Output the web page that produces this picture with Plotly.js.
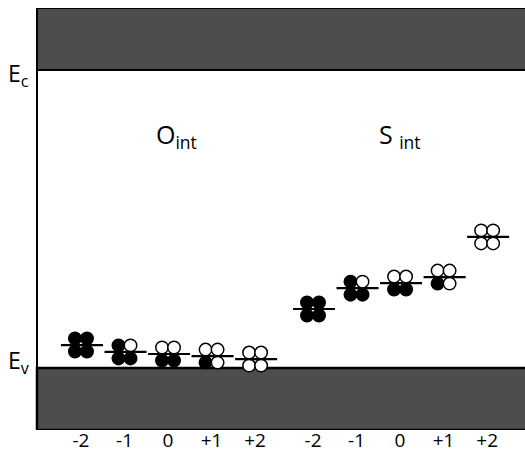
<!DOCTYPE html>
<html>
<head>
<meta charset="utf-8">
<script src="https://cdn.plot.ly/plotly-3.0.1.min.js"></script>
<style>html,body{margin:0;padding:0;background:#fff;}#chart{width:525px;height:453px;}</style>
</head>
<body>
<div id="chart"></div>
<script>
// ---- data ----
const chargeLabels = ["-2", "-1", "0", "+1", "+2"];
const xO = [0, 1, 2, 3, 4];                 // O_int positions
const xS = [5.33, 6.33, 7.33, 8.33, 9.33];  // S_int positions
const oLevels = [0.077, 0.054, 0.047, 0.040, 0.030]; // level above Ev (Ev=0, Ec=1)
const sLevels = [0.198, 0.268, 0.285, 0.305, 0.440];
// occupancy of the four states per charge (1 = filled electron, 0 = empty)
const occTL = [1, 1, 0, 0, 0];
const occTR = [1, 0, 0, 0, 0];
const occBL = [1, 1, 1, 1, 0];
const occBR = [1, 1, 1, 0, 0];

// ---- layout geometry ----
const W = 525, H = 453;
const mL = 37, mR = 0, mT = 8, mB = 23;
const xRange = [-1.01, 10.2];
const yRange = [-0.208, 1.208];
const pxX = (W - mL - mR) / (xRange[1] - xRange[0]);
const pxY = (H - mT - mB) / (yRange[1] - yRange[0]);
const dx = 6 / pxX, dy = 6.5 / pxY;

const xs = xO.concat(xS);
const ys = oLevels.concat(sLevels);
const occ = q => q.concat(q).map(v => v ? "#000" : "#fff");

function quad(sx, sy, q) {
  return {
    type: "scatter", mode: "markers",
    x: xs.map(v => v + sx * dx), y: ys.map(v => v + sy * dy),
    marker: {symbol: "circle", size: 12.5, color: occ(q), line: {color: "#000", width: 1.5}},
    hoverinfo: "skip", showlegend: false, cliponaxis: false
  };
}
const traces = [
  quad(-1, 1, occTL), quad(1, 1, occTR), quad(-1, -1, occBL), quad(1, -1, occBR),
  {
    type: "scatter", mode: "markers",
    x: xs.map(v => v + 1 / pxX), y: ys,
    marker: {symbol: "line-ew", size: 30, line: {color: "#000", width: 2.2}},
    hoverinfo: "skip", showlegend: false, cliponaxis: false
  }
];

const band = "#4d4d4d";
const layout = {
  width: W, height: H,
  margin: {l: mL, r: mR, t: mT, b: mB, pad: 0},
  paper_bgcolor: "#fff", plot_bgcolor: "#fff",
  font: {family: "Open Sans, DejaVu Sans, sans-serif", color: "#000", size: 16},
  xaxis: {
    range: xRange, showgrid: false, zeroline: false, showline: false,
    tickmode: "array", tickvals: xs, ticktext: chargeLabels.concat(chargeLabels),
    ticks: "", ticklabelstandoff: -3,
    tickfont: {family: "Open Sans, DejaVu Sans, sans-serif", size: 19, color: "#000"},
    fixedrange: true
  },
  yaxis: {
    range: yRange, showgrid: false, zeroline: false, showline: false,
    showticklabels: false, ticks: "", fixedrange: true
  },
  shapes: [
    {type: "rect", xref: "paper", yref: "y", x0: 0, x1: 1.02, y0: 1, y1: yRange[1],
     fillcolor: band, line: {color: "#000", width: 2}, layer: "below"},
    {type: "rect", xref: "paper", yref: "y", x0: 0, x1: 1.02, y0: yRange[0], y1: 0,
     fillcolor: band, line: {color: "#000", width: 2.5}, layer: "below"},
    {type: "line", xref: "paper", yref: "y", x0: 0, x1: 0, y0: yRange[0], y1: yRange[1],
     line: {color: "#000", width: 2}}
  ],
  annotations: [
    {xref: "paper", yref: "y", x: -0.064, y: 1, xanchor: "left", yanchor: "top", yshift: 15,
     text: "E<sub>c</sub>", showarrow: false, font: {size: 23}},
    {xref: "paper", yref: "y", x: -0.064, y: 0, xanchor: "left", yanchor: "bottom", yshift: -13,
     text: "E<sub>v</sub>", showarrow: false, font: {size: 23}},
    {xref: "x", yref: "y", x: 2.2, y: 0.78, xanchor: "center", yanchor: "middle",
     text: "O<sub>int</sub>", showarrow: false, font: {size: 25}},
    {xref: "x", yref: "y", x: 7.32, y: 0.78, xanchor: "center", yanchor: "middle",
     text: "S <sub>int</sub>", showarrow: false, font: {size: 25}}
  ]
};
Plotly.newPlot("chart", traces, layout, {staticPlot: true, displayModeBar: false});
</script>
</body>
</html>
